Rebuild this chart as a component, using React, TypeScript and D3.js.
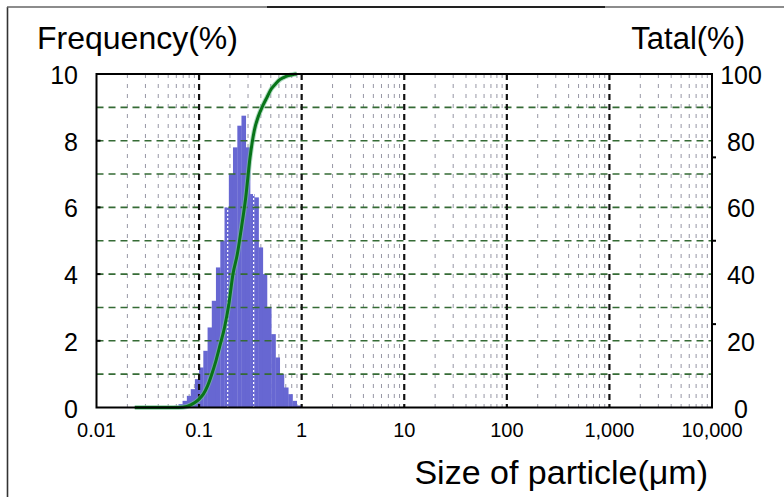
import React from "react";
import * as d3 from "d3";

// ---- data ----
const binEdges = [
  0.057, 0.063, 0.069, 0.076, 0.083, 0.091, 0.1, 0.11, 0.121, 0.133, 0.146,
  0.161, 0.177, 0.195, 0.214, 0.236, 0.259, 0.285, 0.314, 0.345, 0.38, 0.418,
  0.459, 0.505, 0.556, 0.611, 0.672, 0.74, 0.814, 0.895, 0.985,
];
const frequency = [
  0.05, 0.1, 0.2, 0.35, 0.55, 0.85, 1.2, 1.7, 2.4, 3.2, 4.2, 5.0, 6.0, 7.0,
  7.8, 8.45, 8.75, 7.8, 6.4, 6.3, 4.8, 4.0, 3.0, 2.2, 1.5, 1.0, 0.6, 0.4, 0.2,
  0.06,
];
const cumSizes = [
  0.0236, 0.063, 0.076, 0.083, 0.091, 0.1, 0.11, 0.121, 0.133, 0.146, 0.161,
  0.177, 0.195, 0.214, 0.236, 0.259, 0.285, 0.314, 0.345, 0.38, 0.418, 0.459,
  0.505, 0.556, 0.611, 0.672, 0.74, 0.814, 0.895,
];
const cumTotal = [
  0, 0, 0.3, 0.8, 1.5, 2.5, 4, 6.5, 10, 14, 19, 24, 31, 40, 46, 54, 63, 75,
  83, 87.5, 90.5, 93, 95.5, 97, 98.3, 99, 99.5, 99.8, 100,
];
const xTicks = [0.01, 0.1, 1, 10, 100, 1000, 10000];
const leftTicks = [0, 2, 4, 6, 8, 10];
const rightTicks = [0, 20, 40, 60, 80, 100];
const leftGrid = [1, 2, 3, 4, 5, 6, 7, 8, 9];
const rightMarks = [25, 50, 75];
const leftMarks = [2, 4, 6, 8];
const minorMultipliers = [2, 3, 4, 5, 6, 7, 8, 9];
const whiteDotSizes = [0.19, 0.34];

const FONT = "'Liberation Sans', Arial, sans-serif";

export default function App() {
  const L = 96.5, R = 712, T = 74, B = 407.5;
  const x = d3.scaleLog().domain([0.01, 10000]).range([L, R]);
  const yL = d3.scaleLinear().domain([0, 10]).range([B, T]);
  const yR = d3.scaleLinear().domain([0, 100]).range([B, T]);
  const fmt = d3.format(",");

  const minor: number[] = [];
  xTicks.slice(0, -1).forEach((d) => minorMultipliers.forEach((m) => minor.push(d * m)));

  const line = d3
    .line<number>()
    .x((_, i) => x(cumSizes[i]))
    .y((v) => yR(v))
    .curve(d3.curveMonotoneX);

  const bars = frequency.map((v, i) => ({ x0: binEdges[i], x1: binEdges[i + 1], v }));

  return (
    <svg width={784} height={497} style={{ position: "absolute", left: 0, top: 0, background: "#fff" }}
      fontFamily={FONT}>
      <defs>
        <clipPath id="barsClip">
          {bars.map((b, i) => (
            <rect key={i} x={x(b.x0)} y={yL(b.v)} width={x(b.x1) - x(b.x0)} height={B - yL(b.v)} />
          ))}
        </clipPath>
      </defs>
      {/* outer frame */}
      <line x1={7.5} x2={7.5} y1={7} y2={497} stroke="#333" strokeWidth={1.6} />
      <line x1={7} x2={784} y1={7} y2={7} stroke="#666" strokeWidth={1.3} />
      <line x1={267} x2={605} y1={7} y2={7} stroke="#222" strokeWidth={2} />

      {/* minor vertical gridlines */}
      {minor.map((m, i) => (
        <line key={i} x1={x(m)} x2={x(m)} y1={T} y2={B} stroke="#7f7f90" strokeWidth={1}
          strokeDasharray="4,6" opacity={0.8} />
      ))}

      {/* histogram */}
      {bars.map((b, i) => (
        <rect key={i} x={x(b.x0)} y={yL(b.v)} width={x(b.x1) - x(b.x0) + 0.3} height={B - yL(b.v)}
          fill="#6767d2" />
      ))}
      <g clipPath="url(#barsClip)">
        {whiteDotSizes.map((s, i) => (
          <line key={i} x1={x(s)} x2={x(s)} y1={T} y2={B} stroke="#fff" strokeWidth={1.2} strokeDasharray="2,2" />
        ))}
      </g>

      {/* horizontal green gridlines */}
      {leftGrid.map((g) => (
        <line key={g} x1={L} x2={R} y1={yL(g)} y2={yL(g)} stroke="#356b35" strokeWidth={1.6}
          strokeDasharray="7,5" />
      ))}
      {/* decade lines */}
      {xTicks.slice(1, -1).map((t) => (
        <line key={t} x1={x(t)} x2={x(t)} y1={T} y2={B} stroke="#111" strokeWidth={2.2}
          strokeDasharray="6,4" />
      ))}

      {/* cumulative curve */}
      <path d={line(cumTotal) || ""} fill="none" stroke="#7cc39a" strokeWidth={5} opacity={0.6} />
      <path d={line(cumTotal) || ""} fill="none" stroke="#087418" strokeWidth={3} />

      {/* plot frame */}
      <rect x={L} y={T} width={R - L} height={B - T} fill="none" stroke="#000" strokeWidth={2} />
      {leftMarks.map((v) => (
        <line key={v} x1={L} x2={L + 4} y1={yL(v)} y2={yL(v)} stroke="#000" strokeWidth={2} />
      ))}
      {rightMarks.map((v) => (
        <line key={v} x1={R} x2={R + 4} y1={yR(v)} y2={yR(v)} stroke="#000" strokeWidth={2} />
      ))}

      {/* tick labels */}
      {leftTicks.map((v) => (
        <text key={v} x={78} y={yL(v)} dy="0.4em" textAnchor="end" fontSize={25} fill="#000">{v}</text>
      ))}
      {rightTicks.map((v) => (
        <text key={v} x={741} y={yR(v)} dy="0.4em" textAnchor="middle" fontSize={25} fill="#000">{v}</text>
      ))}
      {xTicks.map((t) => (
        <text key={t} x={x(t)} y={437} textAnchor="middle" fontSize={20} fill="#000">{fmt(t)}</text>
      ))}

      {/* titles */}
      <text x={37} y={49} fontSize={32} fill="#000">Frequency(%)</text>
      <text x={745} y={49} textAnchor="end" fontSize={31} fill="#000">Tatal(%)</text>
      <text x={708} y={484} textAnchor="end" fontSize={34} fill="#000">Size of particle(μm)</text>
    </svg>
  );
}
